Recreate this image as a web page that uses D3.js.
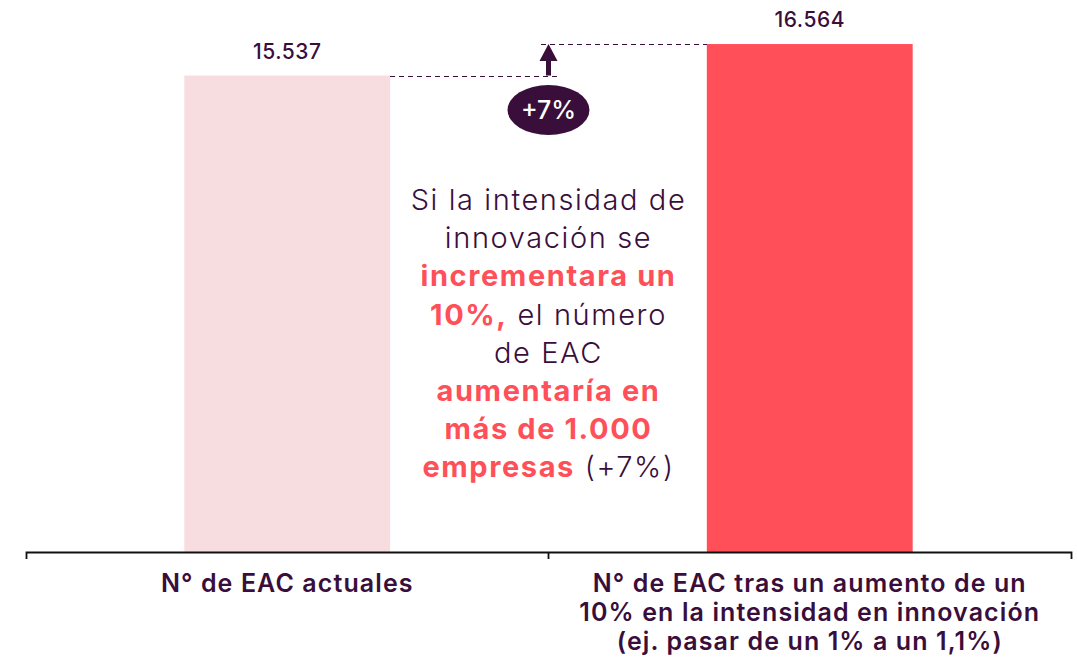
<!DOCTYPE html>
<html>
<head>
<meta charset="utf-8">
<script src="https://cdn.jsdelivr.net/npm/d3@7"></script>
<style>
  body { margin: 0; background: #fff; }
  svg { display: block; font-family: Inter, "Noto Sans", sans-serif; }
</style>
</head>
<body>
<svg id="chart"></svg>
<script>
const categories = [
  "N° de EAC actuales",
  "N° de EAC tras un aumento de un 10% en la intensidad en innovación (ej. pasar de un 1% a un 1,1%)"
];
const categoryLines = [
  ["N° de EAC actuales"],
  ["N° de EAC tras un aumento de un", "10% en la intensidad en innovación", "(ej. pasar de un 1% a un 1,1%)"]
];
const values = [15537, 16564];
const valueLabels = ["15.537", "16.564"];
const barColors = ["#f8dde0", "#ff505a"];
const changeLabel = "+7%";

// annotation: each line is a list of [text, highlighted]
const noteLines = [
  [["Si la intensidad de", false]],
  [["innovación se", false]],
  [["incrementara un", true]],
  [["10%,", true], [" el número", false]],
  [["de EAC", false]],
  [["aumentaría en", true]],
  [["más de 1.000", true]],
  [["empresas", true], [" (+7%)", false]]
];

const DARK = "#3a0e3b";
const CORAL = "#ff505a";
const W = 1077, H = 657;

const svg = d3.select("#chart").attr("width", W).attr("height", H);

const x = d3.scaleBand()
  .domain(categories)
  .range([26, 1071])
  .paddingInner(0.606)
  .paddingOuter(0.303);

const y = d3.scaleLinear().domain([0, 18000]).range([552, 0]);

// bars
svg.append("g").selectAll("rect")
  .data(values)
  .join("rect")
  .attr("x", (d, i) => x(categories[i]))
  .attr("y", d => y(d))
  .attr("width", x.bandwidth())
  .attr("height", d => y(0) - y(d))
  .attr("fill", (d, i) => barColors[i]);

// value labels
svg.append("g").selectAll("text")
  .data(values)
  .join("text")
  .attr("x", (d, i) => x(categories[i]) + x.bandwidth() / 2)
  .attr("y", d => y(d) - 17)
  .attr("text-anchor", "middle")
  .attr("fill", DARK)
  .attr("font-size", 21)
  .attr("font-weight", 500)
  .attr("letter-spacing", 0.5)
  .text((d, i) => valueLabels[i]);

// x axis: line with end ticks + middle tick between bands
const axis = svg.append("g")
  .attr("transform", `translate(0,${y(0)})`)
  .call(d3.axisBottom(x).tickSize(0).tickSizeOuter(7).tickFormat(""));
axis.select(".domain").attr("stroke", "#111").attr("stroke-width", 1.8);
const midX = (x(categories[0]) + x.bandwidth() + x(categories[1])) / 2;
axis.append("line")
  .attr("x1", midX).attr("x2", midX)
  .attr("y1", 0).attr("y2", 7)
  .attr("stroke", "#111").attr("stroke-width", 1.8);

// category labels
categoryLines.forEach((lines, i) => {
  const t = svg.append("text")
    .attr("text-anchor", "middle")
    .attr("fill", DARK)
    .attr("font-size", 25)
    .attr("font-weight", 600)
    .attr("letter-spacing", 1.1);
  lines.forEach((ln, j) => {
    t.append("tspan")
      .attr("x", x(categories[i]) + x.bandwidth() / 2)
      .attr("y", 592 + j * 29)
      .text(ln);
  });
});

// change annotation: dashed guides + arrow + badge
const arrowX = midX;
const y0 = y(values[0]), y1 = y(values[1]);
const guides = svg.append("g")
  .attr("stroke", DARK)
  .attr("stroke-width", 1.3)
  .attr("stroke-dasharray", "5,4")
  .attr("shape-rendering", "crispEdges");
guides.append("line")
  .attr("x1", x(categories[0]) + x.bandwidth()).attr("x2", arrowX + 9)
  .attr("y1", Math.round(y0) + 0.5).attr("y2", Math.round(y0) + 0.5);
guides.append("line")
  .attr("x1", arrowX - 8).attr("x2", x(categories[1]))
  .attr("y1", Math.round(y1) + 0.5).attr("y2", Math.round(y1) + 0.5);

svg.append("rect")
  .attr("x", arrowX - 2.5).attr("y", y1 + 14)
  .attr("width", 5).attr("height", y0 - y1 - 14)
  .attr("fill", DARK);
svg.append("path")
  .attr("d", `M${arrowX},${y1} L${arrowX + 9},${y1 + 17} L${arrowX - 9},${y1 + 17} Z`)
  .attr("fill", DARK);

svg.append("ellipse")
  .attr("cx", arrowX).attr("cy", 110)
  .attr("rx", 41).attr("ry", 25)
  .attr("fill", DARK);
svg.append("text")
  .attr("x", arrowX).attr("y", 119)
  .attr("text-anchor", "middle")
  .attr("fill", "#fff")
  .attr("font-size", 25)
  .attr("font-weight", 500)
  .text(changeLabel);

// central note
const note = svg.append("text")
  .attr("text-anchor", "middle")
  .attr("font-size", 29)
  .attr("letter-spacing", 1.6);
noteLines.forEach((segs, j) => {
  const line = note.append("tspan")
    .attr("x", arrowX)
    .attr("y", 210 + j * 38.2);
  segs.forEach(([txt, hi], k) => {
    const s = k === 0 ? line : note.append("tspan");
    s.text(txt)
      .attr("fill", hi ? CORAL : DARK)
      .attr("font-weight", hi ? 700 : 300);
  });
});
</script>
</body>
</html>
